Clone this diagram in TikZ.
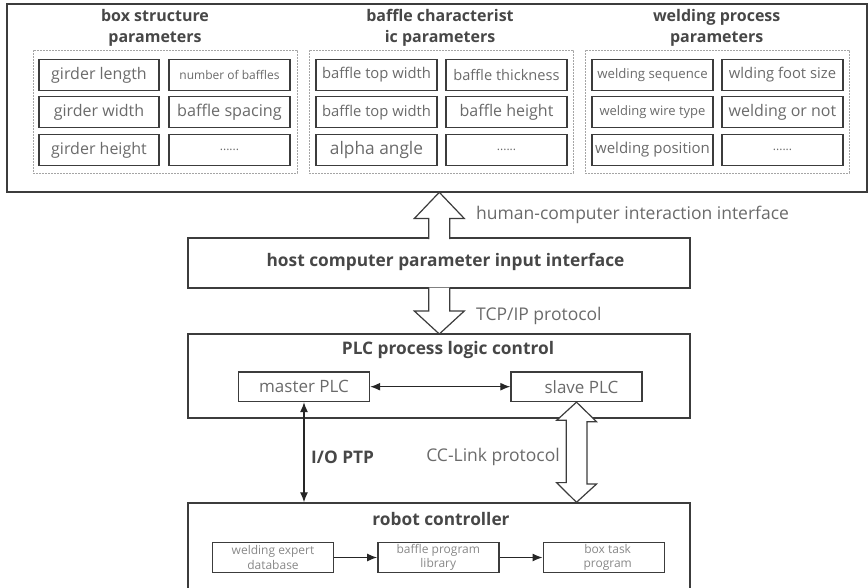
\documentclass[tikz,border=0pt]{standalone}
\usepackage{fontspec}
\setmainfont{Open Sans}
\usetikzlibrary{arrows.meta,calc}
\definecolor{lineC}{HTML}{3C3C3C}
\definecolor{txtC}{HTML}{6A6A6A}
\definecolor{ttlC}{HTML}{474747}
\definecolor{dashC}{HTML}{A5A5A5}
\newcommand{\fs}[1]{\fontsize{#1}{#1}\selectfont}
\begin{document}
\begin{tikzpicture}[x=1pt,y=-1pt,
  frame/.style={draw=lineC,line width=1.4pt,inner sep=0pt},
  group/.style={draw=dashC,line width=0.9pt,dash pattern=on 1.6pt off 1.4pt},
  pbox/.style={draw=lineC,line width=1.4pt,minimum width=121pt,minimum height=31pt,inner sep=0pt,text=txtC},
  ttl/.style={font=\bfseries\fontsize{16}{21}\selectfont,text=ttlC,align=center,inner sep=0pt},
  bttl/.style={font=\bfseries\fontsize{17.3}{21}\selectfont,text=ttlC,align=center,inner sep=0pt},
  lbl/.style={font=\fontsize{17.5}{20}\selectfont,text=txtC,inner sep=0pt},
  plcbox/.style={draw=lineC,line width=1.4pt,minimum width=131pt,minimum height=29.5pt,inner sep=0pt,text=txtC,font=\fs{17}},
  rbox/.style={draw=lineC,line width=1.4pt,minimum width=121pt,minimum height=30pt,inner sep=0pt,text=txtC!80,align=center,font=\fontsize{12}{14.5}\selectfont},
  hollow/.style={draw=lineC,line width=1.2pt,fill=white,line join=miter},
  arr/.style={draw=black!85,line width=1.2pt,-{Latex[length=10pt,width=8pt]}},
  darr/.style={draw=black!85,line width=1.2pt,{Latex[length=10pt,width=8pt]}-{Latex[length=10pt,width=8pt]}}
]
\useasboundingbox (0,0) rectangle (868,587);

% ---------- top parameter panel ----------
\node[frame,minimum width=860pt,minimum height=188pt] (top) at (437,98) {};

\node[group,minimum width=264pt,minimum height=123pt] (g1) at (165,111.5) {};
\node[group,minimum width=264pt,minimum height=123pt] (g2) at (441,111.5) {};
\node[group,minimum width=264pt,minimum height=123pt] (g3) at (717,111.5) {};

\node[ttl] (t1) at (155,27.5) {box structure\\parameters};
\node[ttl] (t2) at (440,27.5) {baffle characterist\\ic parameters};
\node[ttl] (t3) at (716.7,27.5) {welding process\\parameters};

% group 1
\node[pbox,minimum width=120pt,font=\fs{16}] (a11) at (99,75) {girder length};
\node[pbox,font=\fs{12}] (a12) at (229.5,75) {number of baffles};
\node[pbox,minimum width=120pt,font=\fs{16}] (a21) at (99,112.2) {girder width};
\node[pbox,font=\fs{16.2}] (a22) at (229.5,112.2) {baffle spacing};
\node[pbox,minimum width=120pt,font=\fs{16}] (a31) at (99,150) {girder height};
\node[pbox,font=\fs{12}] (a32) at (229.5,150) {......};
% group 2
\node[pbox,font=\fs{14.8}] (b11) at (376.5,75) {baffle top width};
\node[pbox,font=\fs{14.6}] (b12) at (506.5,75) {baffle thickness};
\node[pbox,font=\fs{14.8}] (b21) at (376.5,112.2) {baffle top width};
\node[pbox,font=\fs{16}] (b22) at (506.5,112.2) {baffle height};
\node[pbox,font=\fs{17.3}] (b31) at (376.5,150) {alpha angle};
\node[pbox,font=\fs{12}] (b32) at (506.5,150) {......};
% group 3
\node[pbox,font=\fs{13.2}] (c11) at (652.5,75) {welding sequence};
\node[pbox,font=\fs{14.8}] (c12) at (782.5,75) {wlding foot size};
\node[pbox,font=\fs{13}] (c21) at (652.5,112.2) {welding wire type};
\node[pbox,font=\fs{16}] (c22) at (782.5,112.2) {welding or not};
\node[pbox,font=\fs{15}] (c31) at (652.5,150) {welding position};
\node[pbox,font=\fs{12}] (c32) at (782.5,150) {......};

% ---------- host ----------
\node[frame,minimum width=502pt,minimum height=50pt] (host) at (439,263) {};
\node[bttl] (hostt) at (445.5,262) {host computer parameter input interface};

% ---------- PLC ----------
\node[frame,minimum width=502pt,minimum height=84pt] (plc) at (439,376) {};
\node[bttl] (plct) at (448,350) {PLC process logic control};
\node[plcbox] (master) at (304,386.7) {master PLC};
\node[plcbox] (slave) at (576.5,386.7) {\hspace{10pt}slave PLC};

% ---------- robot ----------
\node[frame,minimum width=502pt,minimum height=87pt] (robot) at (439,546.5) {};
\node[bttl] (robt) at (441,519) {robot controller};
\node[rbox] (r1) at (273,557.5) {welding expert\\database};
\node[rbox] (r2) at (438.3,557.5) {baffle program\\library};
\node[rbox] (r3) at (603.7,557.5) {\hspace{8pt}box task\\\hspace{8pt}program};

% ---------- hollow arrows ----------
\coordinate (h1tip) at (439.3,192.3);
\coordinate (h2tip) at (439.3,334);
\path[hollow] (428.8,239) -- (428.8,218.5) -- (414.3,218.5) -- (h1tip)
  -- (464.3,218.5) -- (449.8,218.5) -- (449.8,239);
\path[hollow] (428.8,287.5) -- (428.8,311) -- (414.3,311) -- (h2tip)
  -- (464.3,311) -- (449.8,311) -- (449.8,287.5);

\coordinate (ccup) at (slave.south);
\coordinate (ccdn) at (ccup |- robot.north);
\path[hollow] (ccup) -- ++(20,19.5) -- ++(-9.6,0) -- ++(0,62.3) -- ++(9.7,0)
  -- (ccdn) -- ++(-20,-19.7) -- ++(9.8,0) -- ++(0,-62.3) -- ++(-9.6,0) -- cycle;

% ---------- line arrows ----------
\draw[darr] (master.east) -- (slave.west);
\draw[darr] (master.south) -- (master.south |- robot.north);
\draw[arr] (r1.east) -- (r2.west);
\draw[arr] (r2.east) -- (r3.west);

% ---------- labels ----------
\node[lbl,anchor=west] (lhci) at (476,215) {human-computer interaction interface};
\node[lbl,anchor=west] (ltcp) at (476,316) {TCP/IP protocol};
\node[bttl,anchor=west] (lio) at (311,457) {I/O PTP};
\node[lbl,anchor=east] (lcc) at (560,457) {CC-Link protocol};
\end{tikzpicture}
\end{document}
